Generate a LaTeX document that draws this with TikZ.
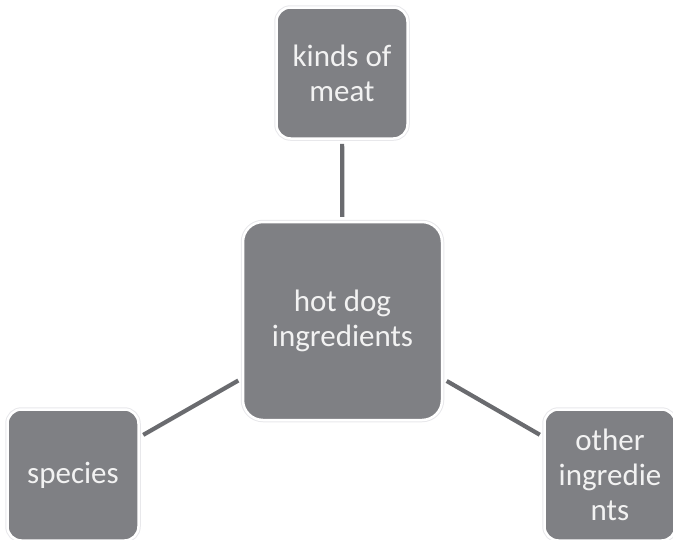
\documentclass[tikz,border=0pt]{standalone}
\usepackage{fontspec}
\setmainfont{Carlito}
\definecolor{boxgray}{RGB}{127,128,132}
\definecolor{linegray}{RGB}{106,107,111}
\definecolor{txt}{RGB}{242,242,242}
\definecolor{halo}{RGB}{232,232,235}
\begin{document}
\begin{tikzpicture}[x=1pt,y=-1pt,
  boxnode/.style={rectangle, fill=boxgray, draw=white, line width=2.5pt,
    preaction={draw=halo, line width=4.5pt},
    text=txt, align=center, inner sep=0pt, font=\fontsize{31}{35}\selectfont},
  conn/.style={draw=linegray, line width=4.2pt, shorten <=4pt, shorten >=4pt}]
\useasboundingbox (0,0) rectangle (673,539);
\node[boxnode, minimum width=199pt, minimum height=198pt, rounded corners=20pt] (c) at (342.5,321) {hot dog\\ingredients};
\node[boxnode, minimum width=131pt, minimum height=131pt, rounded corners=14pt] (t) at (342,73) {kinds of\\meat};
\node[boxnode, minimum width=131pt, minimum height=131pt, rounded corners=14pt] (l) at (73,475) {species};
\node[boxnode, minimum width=131pt, minimum height=131pt, rounded corners=14pt] (r) at (610,475) {other\\ingredie\\nts};
\draw[conn] (c) -- (t);
\draw[conn] (c) -- (l);
\draw[conn] (c) -- (r);
\end{tikzpicture}
\end{document}
